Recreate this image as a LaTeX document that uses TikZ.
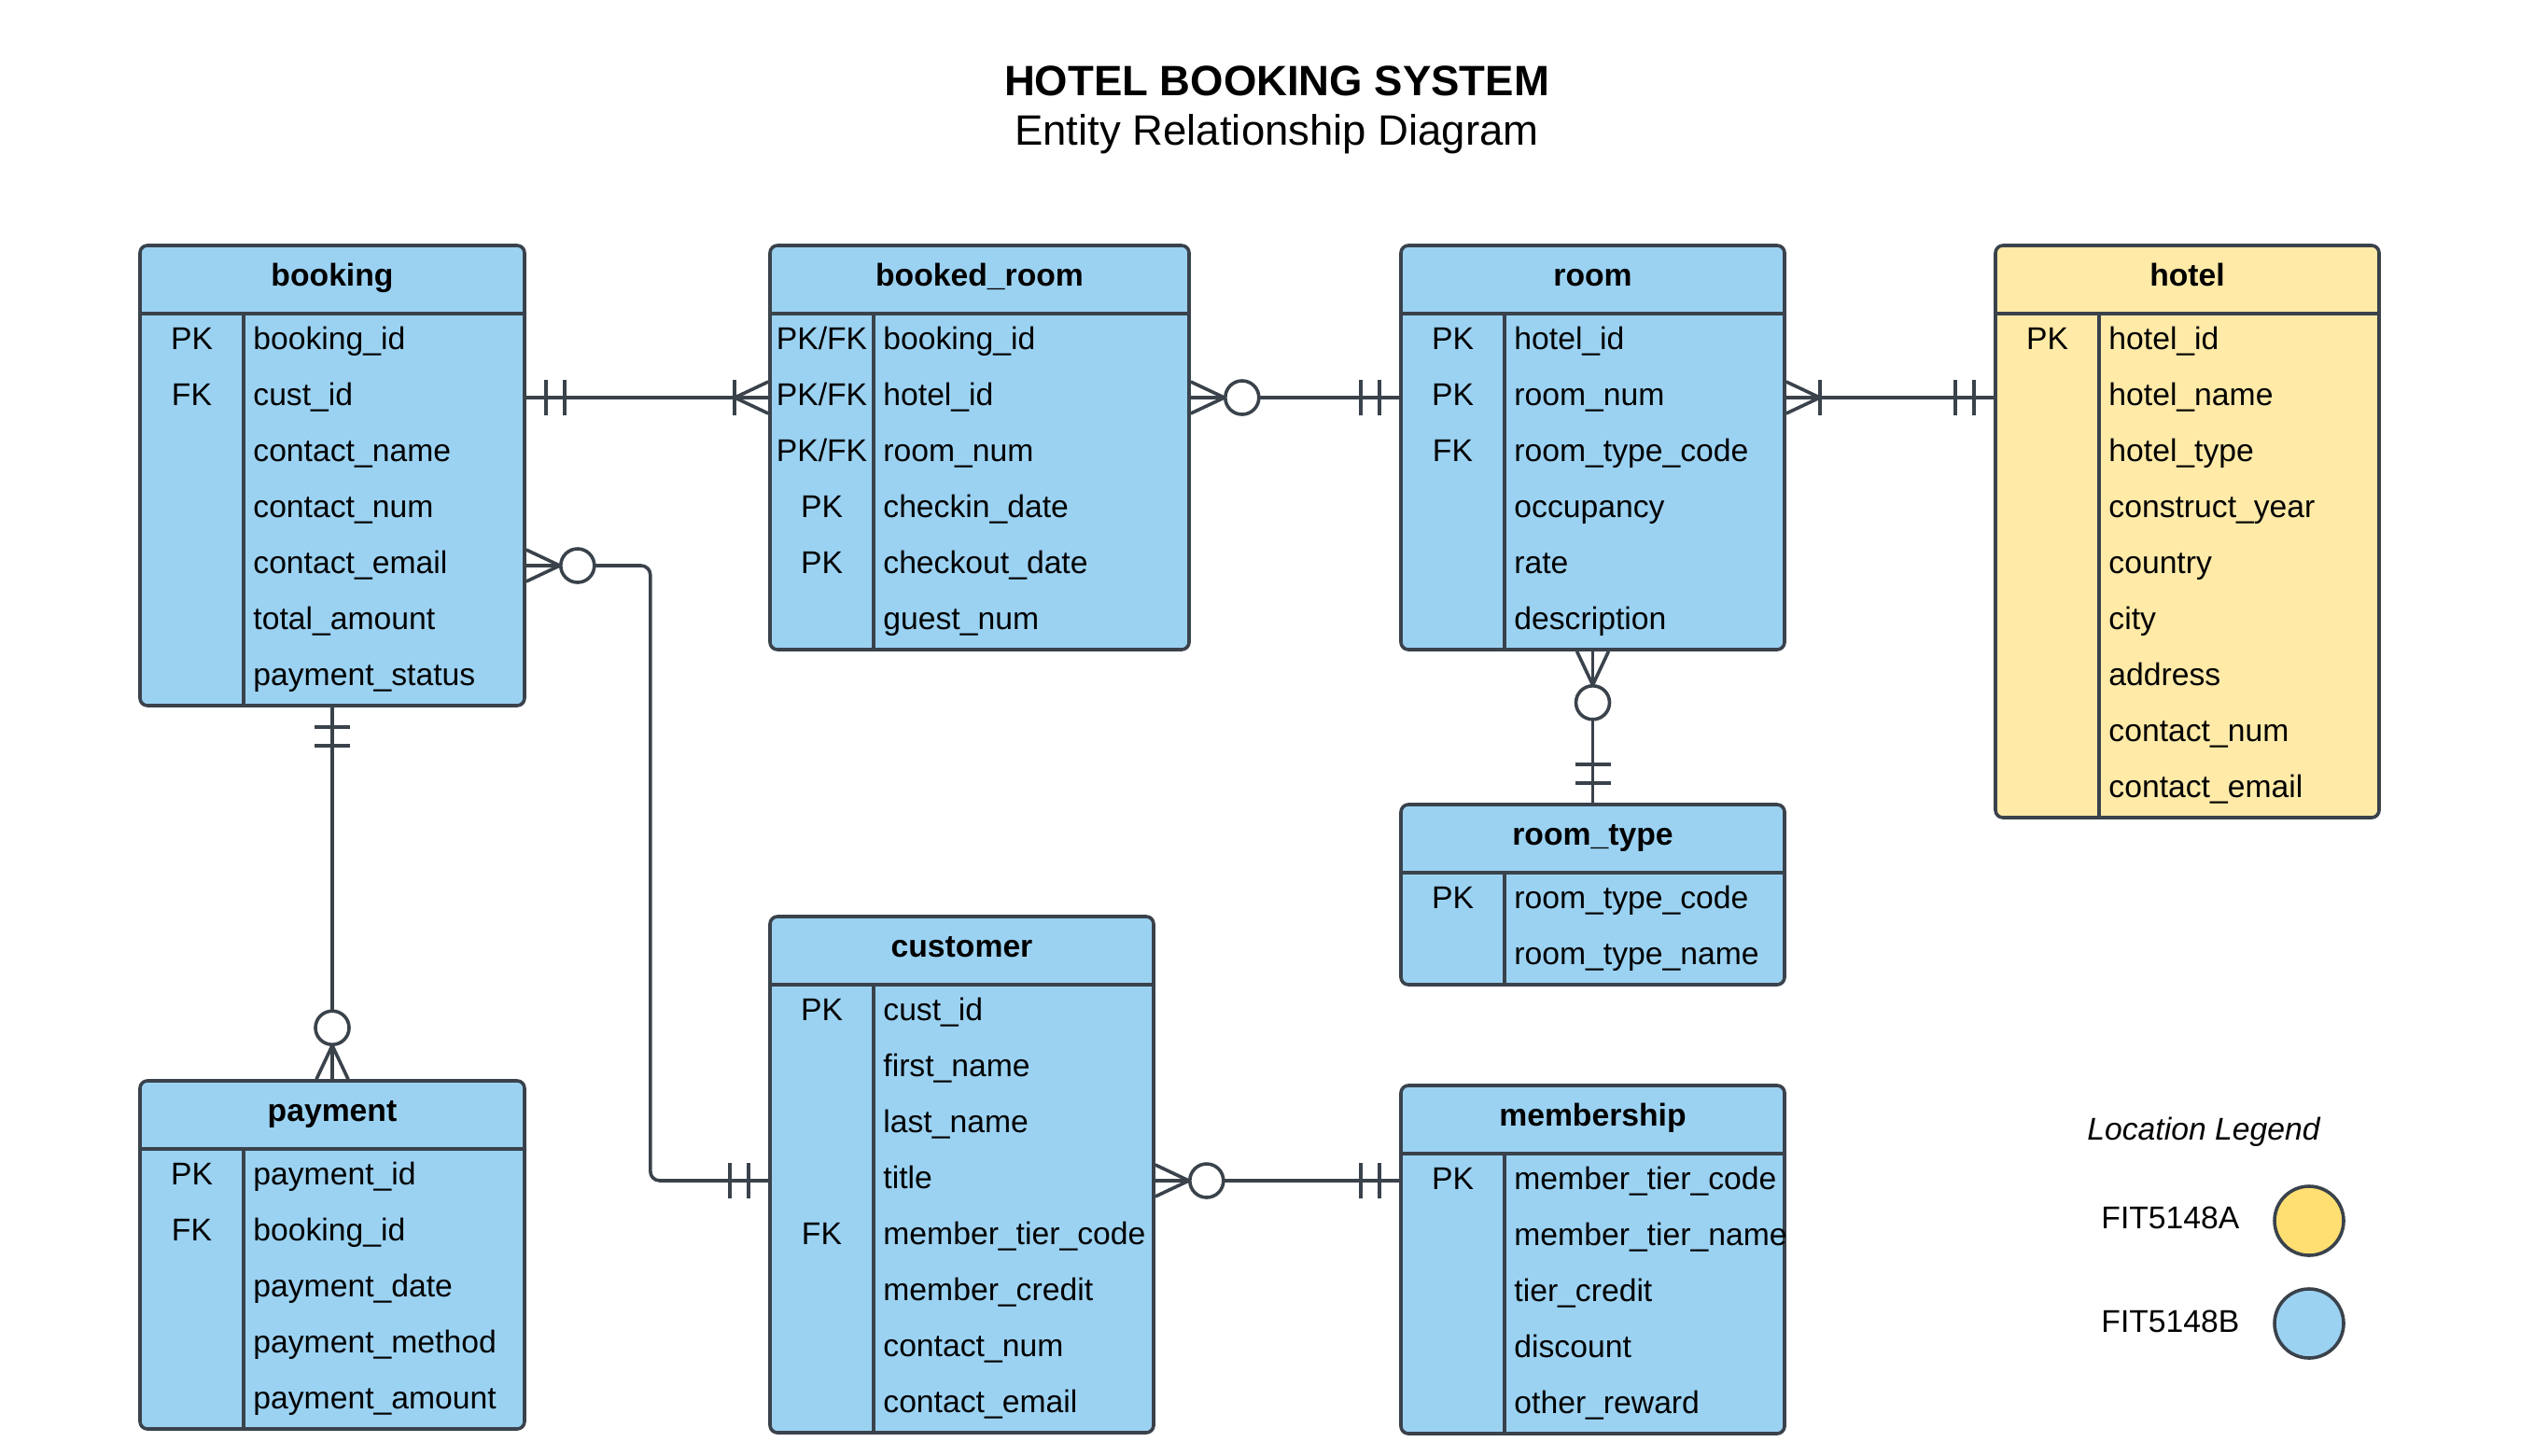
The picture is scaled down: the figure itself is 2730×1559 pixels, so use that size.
\documentclass[tikz,border=0pt]{standalone}
\usepackage{fontspec}
\setmainfont{Liberation Sans}
\usetikzlibrary{fit}
\definecolor{entblue}{RGB}{155,210,242}
\definecolor{entyellow}{RGB}{255,234,167}
\definecolor{legyellow}{RGB}{255,223,113}
\definecolor{lncol}{RGB}{58,66,75}
\newcommand\pkfk{PK/FK}
\tikzset{
  ln/.style={draw=lncol, line width=1.8pt},
  entbox/.style={draw=lncol, line width=1.8pt, rounded corners=4pt, inner sep=0pt},
  txtbase/.style={font=\fontsize{16.85}{20}\selectfont, inner sep=0pt, text height=12.2pt, text depth=3.5pt, text=black},
  ttl/.style={txtbase, font=\fontsize{16.85}{20}\selectfont\bfseries},
  keytxt/.style={txtbase},
  attrtxt/.style={txtbase, anchor=west},
  one/.pic={\draw[ln] (21,-19)--(21,19) (41,-19)--(41,19);},
  zmany/.pic={\draw[ln, line join=round] (0,17)--(36,0)--(0,-17); \draw[ln, fill=white] (55,0) circle[radius=18];},
  omany/.pic={\draw[ln, line join=round] (0,17)--(36,0)--(0,-17); \draw[ln] (36,-19)--(36,19);},
}
% #1 name, #2 left, #3 right, #4 top, #5 rows, #6 fill, #7 title, #8 rows list
\newcommand\erbox[8]{%
  \pgfmathsetmacro\erbot{#4+73+60*#5}%
  \node[entbox, fill=#6, fit={(#2,#4) (#3,\erbot)}] (#1) {};
  \draw[ln] (#2,#4+73) -- (#3,#4+73);
  \draw[ln] (#2+111,#4+73) -- (#2+111,\erbot);
  \node[ttl] (#1-t) at ({(#2+#3)/2},#4+35) {#7};
  \foreach[count=\i] \k/\a in {#8}{
    \node[keytxt] (#1-k\i) at (#2+55.5,#4+43+60*\i) {\k};
    \node[attrtxt] (#1-r\i) at (#2+121,#4+43+60*\i) {\a};
  }
}
\begin{document}
\begin{tikzpicture}[x=0.5pt, y=-0.5pt]
\fill[white] (0,0) rectangle (2730,1559);
\useasboundingbox (0,0) rectangle (2730,1559);

\node[font=\fontsize{22.75}{27}\selectfont\bfseries, inner sep=0pt] (title) at (1368,87) {HOTEL BOOKING SYSTEM};
\node[font=\fontsize{22.75}{27}\selectfont, inner sep=0pt] (subtitle) at (1368,144) {Entity Relationship Diagram};

\erbox{booking}{150}{562}{263}{7}{entblue}{booking}{PK/booking\_id,FK/cust\_id,/contact\_name,/contact\_num,/contact\_email,/total\_amount,/payment\_status}
\erbox{bookedroom}{825}{1274}{263}{6}{entblue}{booked\_room}{\pkfk/booking\_id,\pkfk/hotel\_id,\pkfk/room\_num,PK/checkin\_date,PK/checkout\_date,/guest\_num}
\erbox{room}{1501}{1912}{263}{6}{entblue}{room}{PK/hotel\_id,PK/room\_num,FK/room\_type\_code,/occupancy,/rate,/description}
\erbox{hotel}{2138}{2549}{263}{9}{entyellow}{hotel}{PK/hotel\_id,/hotel\_name,/hotel\_type,/construct\_year,/country,/city,/address,/contact\_num,/contact\_email}
\erbox{roomtype}{1501}{1912}{862}{2}{entblue}{room\_type}{PK/room\_type\_code,/room\_type\_name}
\erbox{payment}{150}{562}{1158}{5}{entblue}{payment}{PK/payment\_id,FK/booking\_id,/payment\_date,/payment\_method,/payment\_amount}
\erbox{customer}{825}{1236}{982}{8}{entblue}{customer}{PK/cust\_id,/first\_name,/last\_name,/title,FK/member\_tier\_code,/member\_credit,/contact\_num,/contact\_email}
\erbox{membership}{1501}{1912}{1163}{5}{entblue}{membership}{PK/member\_tier\_code,/member\_tier\_name,/tier\_credit,/discount,/other\_reward}

% booking -- booked_room
\draw[ln] (booking.east |- booking-r2) -- (bookedroom.west |- bookedroom-r2);
\pic at (booking.east |- booking-r2) {one};
\pic[rotate=180] at (bookedroom.west |- bookedroom-r2) {omany};
% booked_room -- room
\draw[ln] (bookedroom.east |- bookedroom-r2) -- (room.west |- room-r2);
\pic at (bookedroom.east |- bookedroom-r2) {zmany};
\pic[rotate=180] at (room.west |- room-r2) {one};
% room -- hotel
\draw[ln] (room.east |- room-r2) -- (hotel.west |- room-r2);
\pic at (room.east |- room-r2) {omany};
\pic[rotate=180] at (hotel.west |- room-r2) {one};
% room -- room_type
\draw[ln] (room.south) -- (roomtype.north);
\pic[rotate=-90] at (room.south) {zmany};
\pic[rotate=90] at (roomtype.north) {one};
% booking -- payment
\draw[ln] (booking.south) -- (payment.north);
\pic[rotate=-90] at (booking.south) {one};
\pic[rotate=90] at (payment.north) {zmany};
% booking -- customer
\draw[ln, rounded corners=5pt] (booking.east |- booking-r5) -- ++(133,0) |- (customer.west |- customer-r4);
\pic at (booking.east |- booking-r5) {zmany};
\pic[rotate=180] at (customer.west |- customer-r4) {one};
% customer -- membership
\draw[ln] (customer.east |- customer-r4) -- (membership.west |- customer-r4);
\pic at (customer.east |- customer-r4) {zmany};
\pic[rotate=180] at (membership.west |- customer-r4) {one};

% legend
\node[txtbase, font=\fontsize{16.85}{20}\selectfont\itshape] (legtitle) at (2361,1213) {Location Legend};
\node[attrtxt] (legA) at (2251,1308) {FIT5148A};
\node[attrtxt] (legB) at (2251,1419) {FIT5148B};
\node[draw=lncol, line width=1.8pt, fill=legyellow, circle, minimum size=37pt, inner sep=0pt] (legAc) at (2474,1308) {};
\node[draw=lncol, line width=1.8pt, fill=entblue, circle, minimum size=37pt, inner sep=0pt] (legBc) at (2474,1418) {};
\end{tikzpicture}
\end{document}
